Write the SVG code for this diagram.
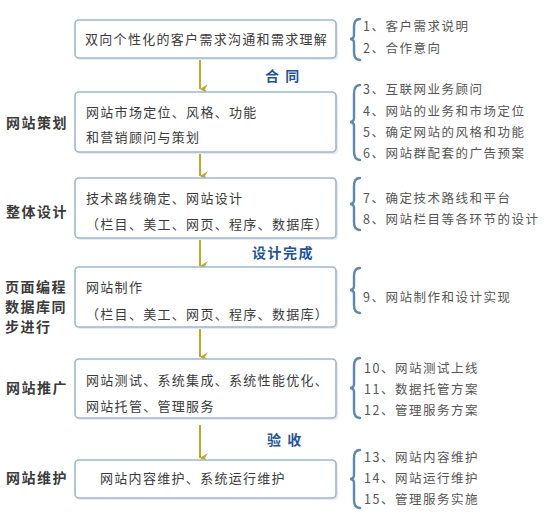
<svg xmlns="http://www.w3.org/2000/svg" width="553" height="529" viewBox="0 0 553 529">
<defs>
<marker id="ah" markerWidth="10" markerHeight="10" refX="5" refY="8" orient="auto" markerUnits="userSpaceOnUse">
<path d="M0,0 L5,8 L10,0 L5,3 Z" fill="#c3a72a"/>
</marker>
</defs>
<style>
.box{fill:#fff;stroke:#9fb6cf;stroke-width:1.6}
.shadow{fill:#e6ebf0}
.t{font-family:"Noto Sans CJK SC","Noto Sans",sans-serif;font-size:13px;fill:#3a3a3a;letter-spacing:1.3px}
.lab{font-family:"Noto Sans CJK SC","Noto Sans",sans-serif;font-size:14px;font-weight:bold;fill:#3a3a3a;letter-spacing:1.5px}
.mid{font-family:"Noto Sans CJK SC","Noto Sans",sans-serif;font-size:14px;font-weight:bold;fill:#1f5497;letter-spacing:1.5px}
.r{font-family:"Noto Sans CJK SC","Noto Sans",sans-serif;font-size:12.5px;fill:#555;letter-spacing:1.5px}
.br{fill:none;stroke:#5f88ab;stroke-width:2.4;stroke-linecap:round}
.ar{stroke:#c3a72a;stroke-width:2;fill:none}
</style>
<rect width="553" height="529" fill="#fff"/>

<g id="connectors">
<line class="ar" x1="200" y1="58" x2="200" y2="89" marker-end="url(#ah)"/>
<line class="ar" x1="200" y1="152" x2="200" y2="176" marker-end="url(#ah)"/>
<line class="ar" x1="200" y1="238" x2="200" y2="266" marker-end="url(#ah)"/>
<line class="ar" x1="200" y1="327" x2="200" y2="357" marker-end="url(#ah)"/>
<line class="ar" x1="200" y1="425" x2="200" y2="458" marker-end="url(#ah)"/>
<text class="mid" x="265" y="81">合 同</text>
<text class="mid" x="252" y="258">设计完成</text>
<text class="mid" x="267" y="445">验 收</text>
</g>

<g id="n1">
<rect class="shadow" x="77" y="22" width="261" height="38" rx="4"/>
<rect class="box" x="75" y="20" width="261" height="38" rx="4"/>
<text class="t" x="85" y="44">双向个性化的客户需求沟通和需求理解</text>
</g>
<g id="n2">
<text class="lab" x="6" y="128">网站策划</text>
<rect class="shadow" x="77" y="94" width="261" height="60" rx="4"/>
<rect class="box" x="75" y="92" width="261" height="60" rx="4"/>
<text class="t" x="86" y="117">网站市场定位、风格、功能</text>
<text class="t" x="86" y="142">和营销顾问与策划</text>
</g>
<g id="n3">
<text class="lab" x="6" y="217">整体设计</text>
<rect class="shadow" x="77" y="180" width="261" height="60" rx="4"/>
<rect class="box" x="75" y="178" width="261" height="60" rx="4"/>
<text class="t" x="86" y="203">技术路线确定、网站设计</text>
<text class="t" x="86" y="229">（栏目、美工、网页、程序、数据库）</text>
</g>
<g id="n4">
<text class="lab" x="5" y="292">页面编程</text>
<text class="lab" x="5" y="312">数据库同</text>
<text class="lab" x="5" y="332">步进行</text>
<rect class="shadow" x="77" y="269" width="261" height="60" rx="4"/>
<rect class="box" x="75" y="267" width="261" height="60" rx="4"/>
<text class="t" x="86" y="292">网站制作</text>
<text class="t" x="86" y="319">（栏目、美工、网页、程序、数据库）</text>
</g>
<g id="n5">
<text class="lab" x="6" y="393">网站推广</text>
<rect class="shadow" x="77" y="361" width="261" height="59" rx="4"/>
<rect class="box" x="75" y="359" width="261" height="59" rx="4"/>
<text class="t" x="86" y="385">网站测试、系统集成、系统性能优化、</text>
<text class="t" x="86" y="411">网站托管、管理服务</text>
</g>
<g id="n6">
<text class="lab" x="6" y="483">网站维护</text>
<rect class="shadow" x="77" y="462" width="261" height="38" rx="4"/>
<rect class="box" x="75" y="460" width="261" height="38" rx="4"/>
<text class="t" x="100" y="483">网站内容维护、系统运行维护</text>
</g>

<g id="notes1">
<path class="br" d="M360,19 Q354,19 354,27 L354,35 Q354,39 350,39 Q354,39 354,43 L354,52 Q354,60 360,60"/>
<text class="r" x="363" y="31">1、客户需求说明</text>
<text class="r" x="363" y="53">2、合作意向</text>
</g>
<g id="notes2">
<path class="br" d="M360,85 Q354,85 354,94 L354,118 Q354,122 350,122 Q354,122 354,126 L354,151 Q354,160 360,160"/>
<text class="r" x="363" y="94">3、互联网业务顾问</text>
<text class="r" x="363" y="116">4、网站的业务和市场定位</text>
<text class="r" x="363" y="137">5、确定网站的风格和功能</text>
<text class="r" x="363" y="158">6、网站群配套的广告预案</text>
</g>
<g id="notes3">
<path class="br" d="M360,178 Q354,178 354,186 L354,200 Q354,204 350,204 Q354,204 354,208 L354,222 Q354,230 360,230"/>
<text class="r" x="363" y="203">7、确定技术路线和平台</text>
<text class="r" x="363" y="224">8、网站栏目等各环节的设计</text>
</g>
<g id="notes4">
<path class="br" d="M360,268 Q354,268 354,276 L354,286 Q354,290 350,290 Q354,290 354,294 L354,305 Q354,313 360,313"/>
<text class="r" x="363" y="302">9、网站制作和设计实现</text>
</g>
<g id="notes5">
<path class="br" d="M360,358 Q354,358 354,366 L354,384 Q354,388 350,388 Q354,388 354,392 L354,410 Q354,418 360,418"/>
<text class="r" x="364" y="373">10、网站测试上线</text>
<text class="r" x="364" y="394">11、数据托管方案</text>
<text class="r" x="364" y="415">12、管理服务方案</text>
</g>
<g id="notes6">
<path class="br" d="M360,450 Q354,450 354,458 L354,475 Q354,479 350,479 Q354,479 354,483 L354,500 Q354,508 360,508"/>
<text class="r" x="364" y="462">13、网站内容维护</text>
<text class="r" x="364" y="483">14、网站运行维护</text>
<text class="r" x="364" y="504">15、管理服务实施</text>
</g>
</svg>
